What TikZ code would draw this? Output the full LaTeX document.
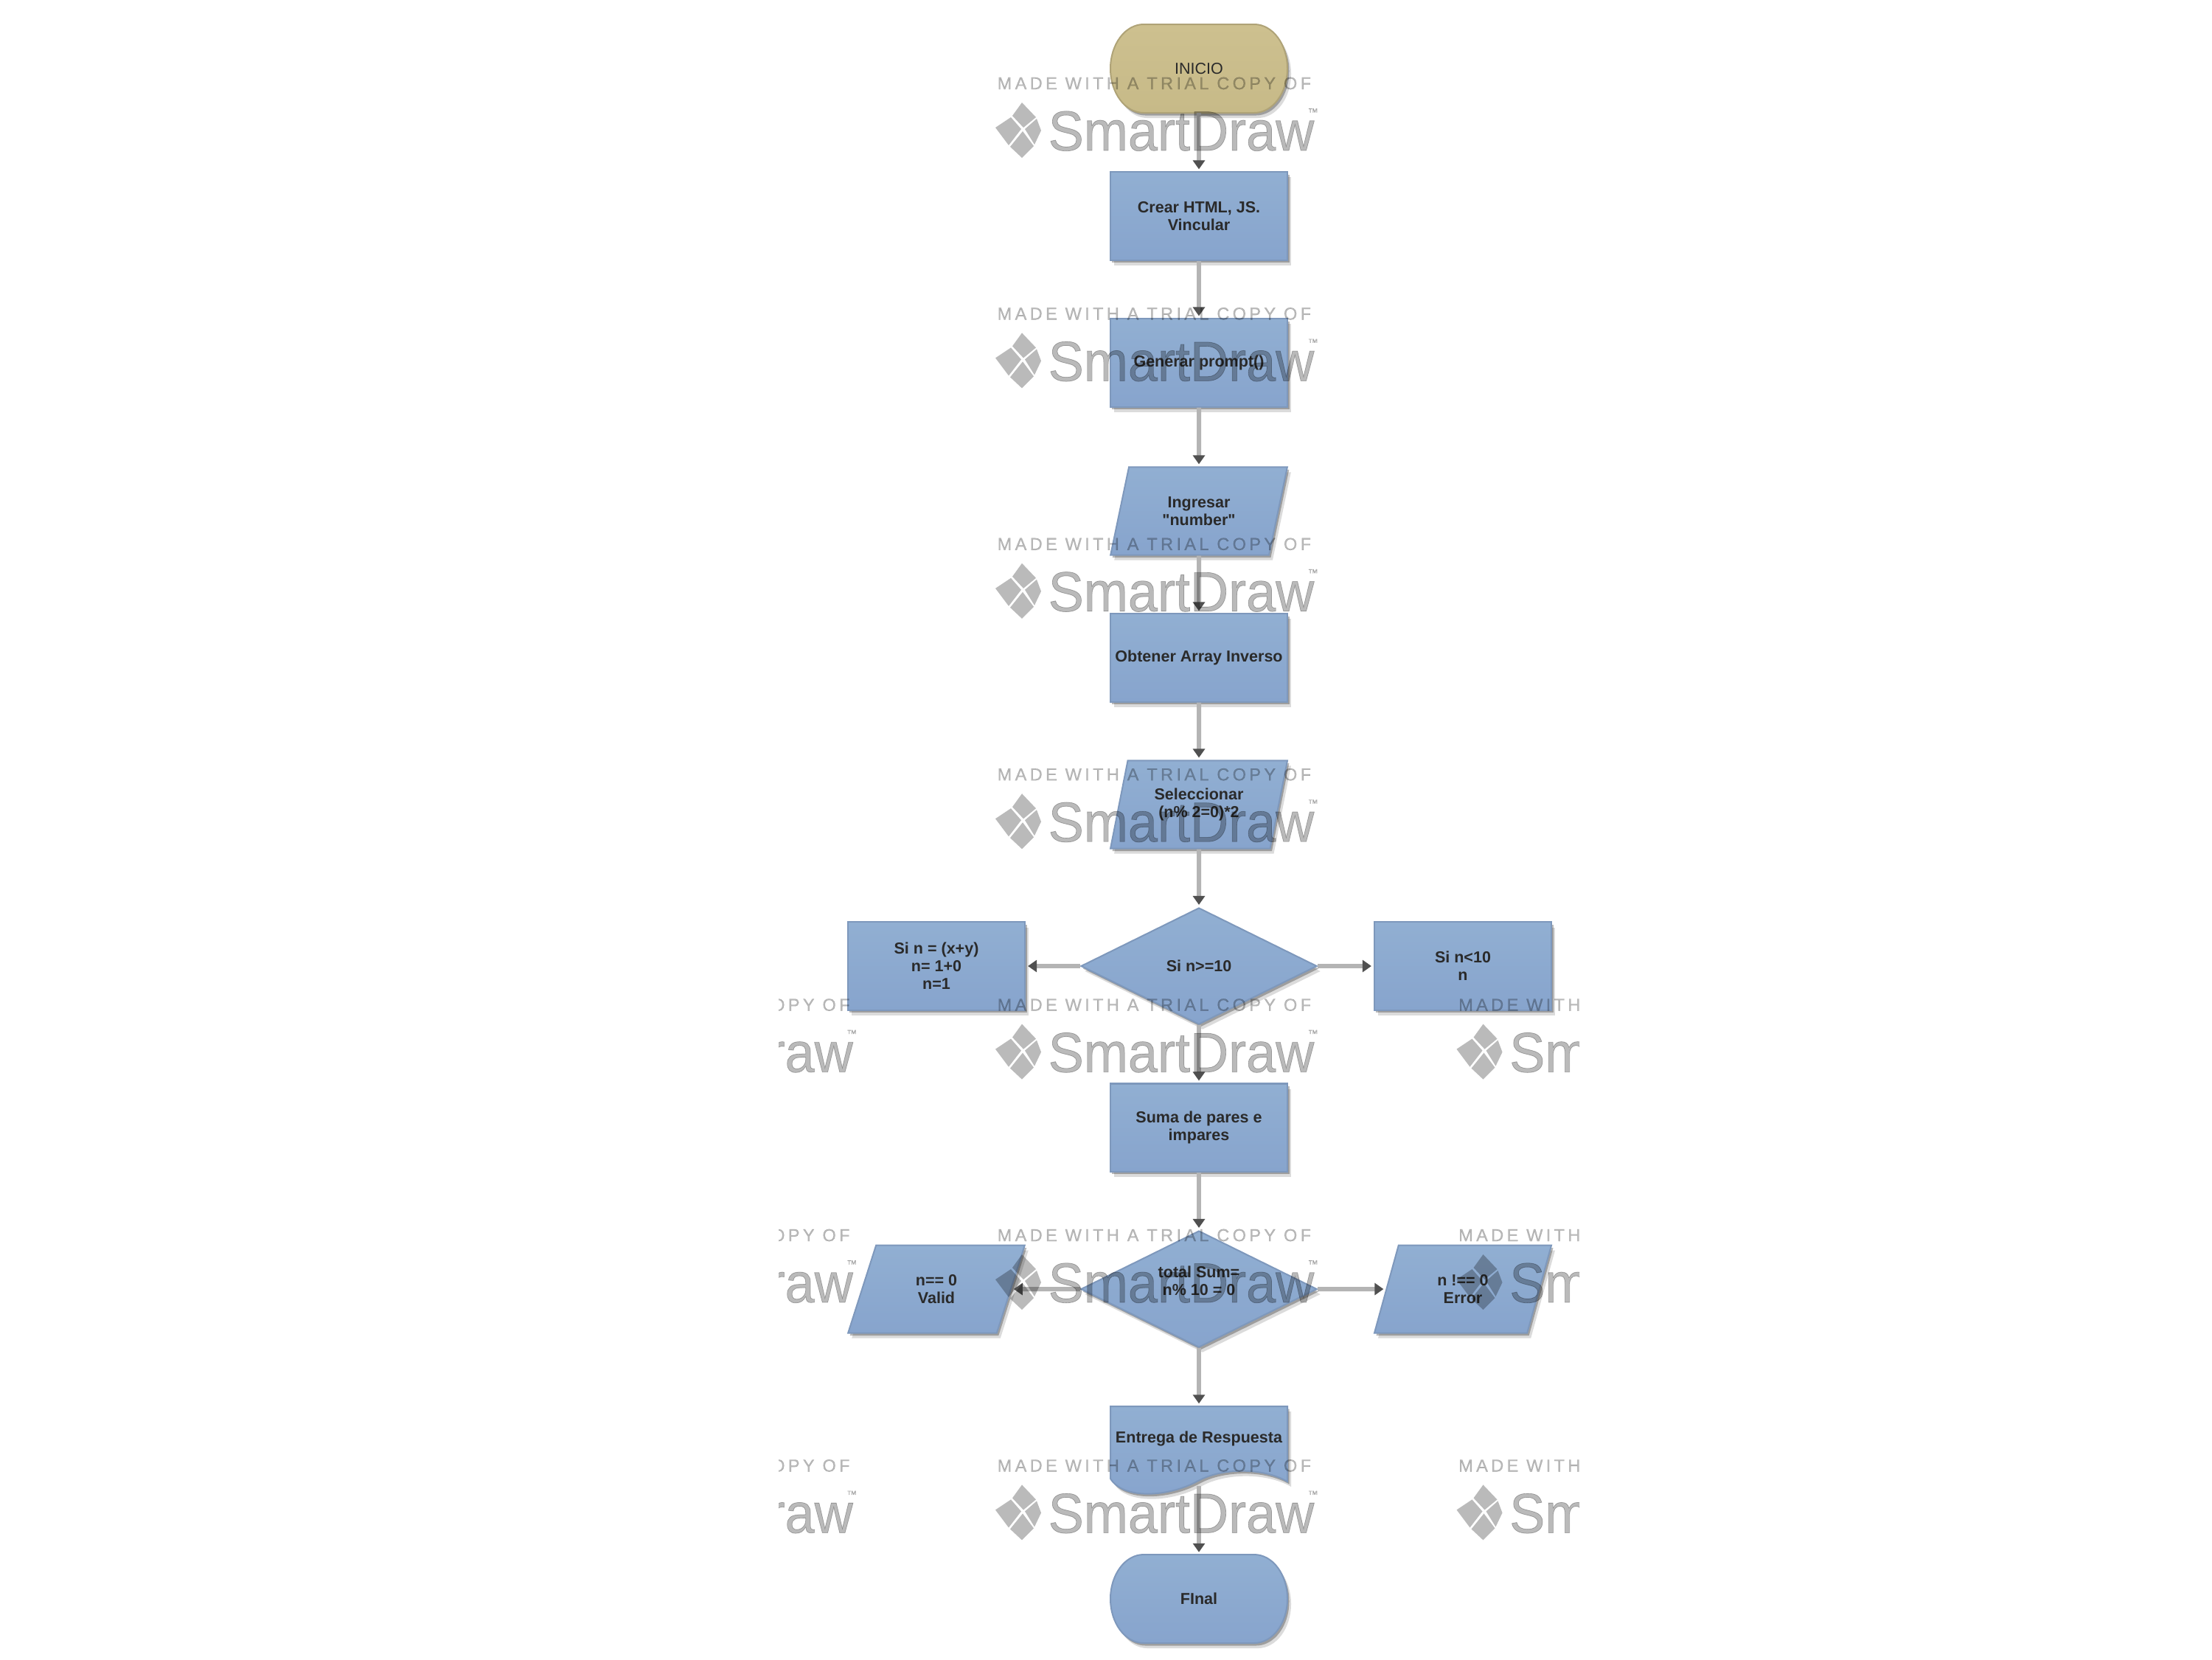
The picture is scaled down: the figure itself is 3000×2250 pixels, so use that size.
\documentclass[tikz,border=0pt]{standalone}
\usepackage{graphicx}
\usepackage{fontspec}
\setmainfont{Liberation Sans}[Ligatures=TeXOff]
\newfontfamily\wmfont{Liberation Sans}[LetterSpace=18.4,FakeBold=0.6,Ligatures=TeXOff]
\newfontfamily\wmlogofont{Liberation Sans}[FakeBold=1.0,Ligatures=TeXOff]
\usetikzlibrary{shapes.geometric,arrows.meta,shadows}
\definecolor{boxT}{HTML}{91AFD2}
\definecolor{boxB}{HTML}{87A4CD}
\definecolor{boxE}{HTML}{7E98BC}
\definecolor{tanT}{HTML}{CDC08F}
\definecolor{tanB}{HTML}{C7BA88}
\definecolor{tanE}{HTML}{AFA377}
\definecolor{txt}{HTML}{2A2A2A}
\definecolor{lineC}{HTML}{B4B4B4}
\definecolor{tipC}{HTML}{505050}
\tikzset{
  softshadow/.style={drop shadow={shadow xshift=.05cm,shadow yshift=-.07cm,fill=black,opacity=.14},
                     drop shadow={shadow xshift=.025cm,shadow yshift=-.035cm,fill=black,opacity=.28}},
  bluefill/.style={top color=boxT,bottom color=boxB,draw=boxE,line width=.02cm,softshadow},
  tanfill/.style={top color=tanT,bottom color=tanB,draw=tanE,line width=.02cm,softshadow},
  label/.style={text=txt,align=center,inner sep=0pt,font=\fontsize{6.12}{6.84}\selectfont\bfseries},
  procbox/.style={rectangle,bluefill,label,minimum width=2.40cm,minimum height=1.19cm},
  iobox/.style={trapezium,trapezium left angle=71.6,trapezium right angle=108.4,trapezium stretches=true,
                bluefill,label,minimum width=2.40cm,minimum height=1.19cm},
  decbox/.style={diamond,bluefill,label,minimum width=3.2cm,minimum height=1.58cm},
  plain/.style={rectangle,label,minimum width=2.40cm,minimum height=1.19cm},
  flow/.style={draw=lineC,line width=.06cm,shorten >=.03cm,
               -{Triangle[width=.16cm,length=.12cm,color=tipC]}},
  wmtext/.style={text=black,text opacity=.27,inner sep=0pt},
  wmleaf/.style={fill=black,fill opacity=.27,draw=none}
}
\newcommand{\wmtile}[3]{%
  \begin{scope}[shift={(#1,#2)}]
    \node[wmtext,anchor=west,font=\fontsize{6.7}{7}\selectfont\wmfont] (wmhead#3) at (1352,113) {MADE WITH A TRIAL COPY OF};
    \path[wmleaf] (1386,139) -- (1405,159) -- (1388,173) -- (1373,157) -- cycle;
    \path[wmleaf] (1350,173) -- (1371,159) -- (1385,175) -- (1368,197) -- cycle;
    \path[wmleaf] (1412,177) -- (1406,161) -- (1390,175) -- (1403,196) -- cycle;
    \path[wmleaf] (1386,214) -- (1370,199) -- (1387,178) -- (1402,198) -- cycle;
    \node[wmtext,anchor=base west] (wmlogo#3) at (1421,204) {\scalebox{.945}[1]{\fontsize{21.7}{22}\selectfont\wmlogofont SmartDraw}};
    \node[wmtext,anchor=west,font=\fontsize{4}{4}\selectfont\wmlogofont] (wmtm#3) at (1773,152) {™};
  \end{scope}}
\begin{document}
\begin{tikzpicture}[x=.01cm,y=-.01cm]
\useasboundingbox (0,0) rectangle (3000,2250);
% hand-drawn outlines
\path[tanfill] (1551,33) -- (1701,33) .. controls (1726,33) and (1746,60) .. (1746,93)
   .. controls (1746,126) and (1726,153) .. (1701,153) -- (1551,153)
   .. controls (1526,153) and (1506,126) .. (1506,93) .. controls (1506,60) and (1526,33) .. (1551,33) -- cycle;
\path[bluefill] (1551,2108) -- (1701,2108) .. controls (1726,2108) and (1746,2135) .. (1746,2168)
   .. controls (1746,2201) and (1726,2228) .. (1701,2228) -- (1551,2228)
   .. controls (1526,2228) and (1506,2201) .. (1506,2168) .. controls (1506,2135) and (1526,2108) .. (1551,2108) -- cycle;
\path[bluefill] (1506,1907) -- (1746,1907) -- (1746,2009)
   .. controls (1713,1990) and (1658,1990) .. (1625,2008)
   .. controls (1583,2031) and (1523,2033) .. (1506,2005) -- cycle;
% nodes
\node[plain,font=\fontsize{6.12}{6.84}\selectfont] (inicio) at (1626,93) {INICIO};
\node[procbox] (crear) at (1626,293) {Crear HTML, JS.\\Vincular};
\node[procbox] (generar) at (1626,492) {Generar prompt()};
\node[iobox] (ingresar) at (1626,693) {Ingresar\\"number"};
\node[procbox] (obtener) at (1626,892) {Obtener Array Inverso};
\node[iobox] (selec) at (1626,1091) {Seleccionar\\(n\% 2=0)*2};
\node[decbox] (d1) at (1626,1310) {Si n>=10};
\node[procbox] (si1) at (1270,1310) {Si n = (x+y)\\n= 1+0\\n=1};
\node[procbox] (si2) at (1984,1310) {Si n<10\\n};
\node[procbox] (suma) at (1626,1529) {Suma de pares e\\impares};
\node[decbox] (d2) at (1626,1748) {};
\node[label] (d2text) at (1626,1737) {total Sum=\\n\% 10 = 0};
\node[iobox] (valid) at (1270,1748) {n== 0\\Valid};
\node[iobox] (error) at (1984,1748) {n !== 0\\Error};
\node[plain,minimum height=1.07cm,text depth=.23cm] (entrega) at (1626,1960.5) {Entrega de Respuesta};
\node[plain] (final) at (1626,2168) {FInal};
% connectors
\draw[flow] (inicio) -- (crear);
\draw[flow] (crear) -- (generar);
\draw[flow] (generar) -- (ingresar);
\draw[flow] (ingresar) -- (obtener);
\draw[flow] (obtener) -- (selec);
\draw[flow] (selec) -- (d1);
\draw[flow] (d1) -- (si1);
\draw[flow] (d1) -- (si2);
\draw[flow] (d1) -- (suma);
\draw[flow] (suma) -- (d2);
\draw[flow] (d2) -- (valid);
\draw[flow] (d2) -- (error);
\draw[flow] (d2) -- (entrega);
\draw[flow] (entrega) -- (final);
% watermark
\begin{scope}
  \clip (1056,0) rectangle (2142,2250);
  \foreach \r/\yy in {1/0,2/312.4,3/624.8,4/937.2,5/1249.6,6/1562,7/1874.4}{
    \wmtile{0}{\yy}{c\r}
  }
  \foreach \r/\yy in {5/1249.6,6/1562,7/1874.4}{
    \wmtile{-625.5}{\yy}{l\r}
    \wmtile{625.5}{\yy}{r\r}
  }
\end{scope}
\end{tikzpicture}
\end{document}
